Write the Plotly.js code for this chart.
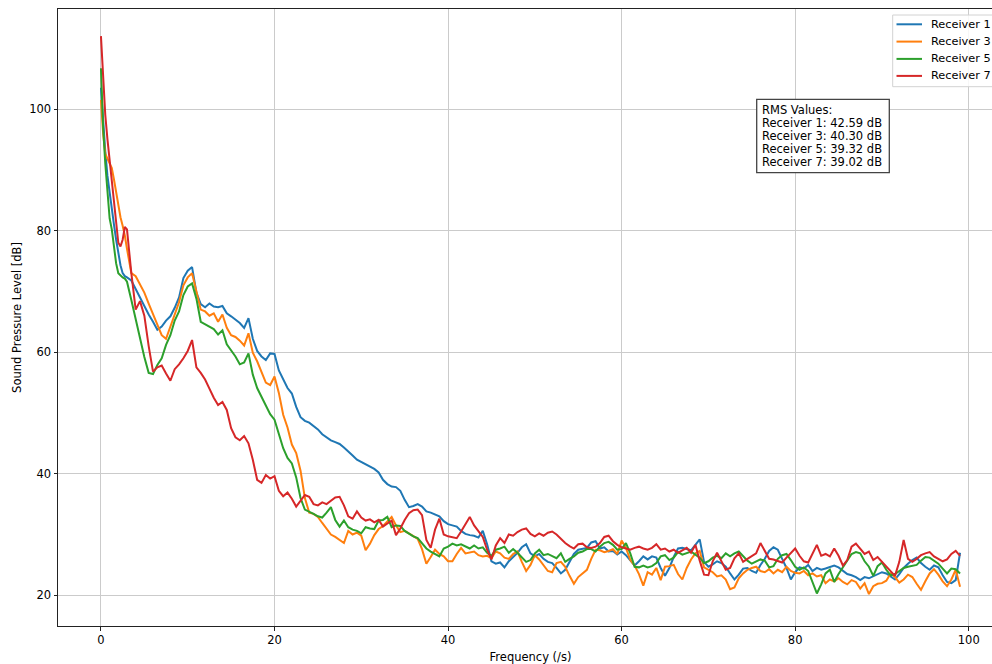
<!DOCTYPE html>
<html>
<head>
<meta charset="utf-8">
<script src="https://cdn.plot.ly/plotly-3.0.1.min.js"></script>
<style>
  html, body { margin: 0; padding: 0; overflow: hidden; background: #ffffff; }
  #chart { width: 1010px; height: 664px; }
</style>
</head>
<body>
<div id="chart"></div>
<script>
// Frequency axis (/s): finer steps near 0 where the spectra fall steeply
const freq = [
  0, 0.25, 0.5, 0.75, 1, 1.25, 1.5, 1.75, 2, 2.25, 2.5, 2.75, 3,
  3.5, 4, 4.5, 5, 5.5, 6, 6.5, 7, 7.5, 8,
  8.5, 9, 9.5, 10, 10.5, 11, 11.5, 12, 12.5, 13,
  13.5, 14, 14.5, 15, 15.5, 16, 16.5, 17, 17.5, 18,
  18.5, 19, 19.5, 20, 20.5, 21, 21.5, 22, 22.5, 23,
  23.5, 24, 24.5, 25, 25.5, 26, 26.5, 27, 27.5, 28,
  28.5, 29, 29.5, 30, 30.5, 31, 31.5, 32, 32.5, 33,
  33.5, 34, 34.5, 35, 35.5, 36, 36.5, 37, 37.5, 38,
  38.5, 39, 39.5, 40, 40.5, 41, 41.5, 42, 42.5, 43,
  43.5, 44, 44.5, 45, 45.5, 46, 46.5, 47, 47.5, 48,
  48.5, 49, 49.5, 50, 50.5, 51, 51.5, 52, 52.5, 53,
  53.5, 54, 54.5, 55, 55.5, 56, 56.5, 57, 57.5, 58,
  58.5, 59, 59.5, 60, 60.5, 61, 61.5, 62, 62.5, 63,
  63.5, 64, 64.5, 65, 65.5, 66, 66.5, 67, 67.5, 68,
  68.5, 69, 69.5, 70, 70.5, 71, 71.5, 72, 72.5, 73,
  73.5, 74, 74.5, 75, 75.5, 76, 76.5, 77, 77.5, 78,
  78.5, 79, 79.5, 80, 80.5, 81, 81.5, 82, 82.5, 83,
  83.5, 84, 84.5, 85, 85.5, 86, 86.5, 87, 87.5, 88,
  88.5, 89, 89.5, 90, 90.5, 91, 91.5, 92, 92.5, 93,
  93.5, 94, 94.5, 95, 95.5, 96, 96.5, 97, 97.5, 98,
  98.5, 99
];

// Sound pressure level [dB] per receiver
const receiver1 = [
  103.5, 97.5, 93.0, 89.0, 86.0, 83.5, 81.0, 78.5, 76.3, 74.3, 73.0, 72.5, 72.3,
  71.8, 70.4, 69.0, 67.5, 66.2, 65.0, 63.7, 64.2, 65.2, 65.9,
  67.3, 69.0, 72.2, 73.4, 74.0, 69.8, 67.9, 67.4, 68.0, 67.5,
  67.4, 67.6, 66.4, 65.9, 65.3, 64.8, 64.0, 65.6, 62.2, 60.2,
  59.3, 58.7, 59.8, 59.7, 57.0, 55.4, 54.1, 53.2, 51.0, 49.3,
  48.7, 48.4, 47.9, 47.3, 46.5, 46.0, 45.5, 45.2, 44.9, 44.3,
  43.7, 43.0, 42.3, 41.9, 41.5, 41.2, 40.8, 40.2, 39.0, 38.3,
  37.9, 37.8, 37.2, 35.7, 34.5, 34.7, 35.0, 34.6, 33.8, 33.6,
  33.3, 33.0, 32.2, 31.7, 31.5, 31.3, 30.6, 30.1, 29.9, 29.8,
  29.5, 30.6, 28.4, 25.6, 25.2, 25.4, 24.6, 25.6, 26.3, 27.0,
  27.9, 28.4, 26.9, 26.4, 26.8, 26.0, 25.5, 25.3, 24.5, 23.6,
  24.2, 25.6, 26.8, 27.5, 27.6, 27.8, 28.7, 28.9, 27.7, 27.9,
  27.2, 27.3, 26.7, 27.2, 26.6, 25.8, 24.9, 25.6, 26.4, 25.9,
  26.4, 26.2, 24.5, 23.2, 24.5, 26.3, 27.7, 27.8, 27.6, 27.4,
  28.3, 29.2, 25.5, 24.7, 25.1, 25.6, 25.3, 24.7, 23.6, 22.6,
  23.4, 24.4, 24.5, 24.0, 23.7, 25.0, 26.0, 27.3, 27.9, 27.5,
  26.0, 24.5, 22.6, 23.8, 24.6, 24.4, 25.0, 24.0, 24.5, 24.2,
  24.4, 24.7, 24.9, 24.6, 24.0, 23.5, 23.3, 23.0, 22.5, 23.0,
  22.8, 23.1, 23.4, 23.8, 23.6, 23.1, 22.6, 23.5, 24.5, 25.2,
  25.8, 26.2, 25.3, 24.7, 24.2, 24.9, 24.6, 23.3, 22.2, 22.0,
  22.5, 27.0
];

const receiver3 = [
  101.5, 96.0, 92.6, 91.8, 91.0, 90.3, 88.4, 86.3, 84.3, 82.2, 80.8, 79.2, 77.0,
  73.0, 72.5, 71.2, 69.8, 68.0, 66.2, 64.3, 62.8, 62.2, 64.3,
  66.3, 68.2, 71.0, 72.3, 73.0, 69.8, 67.0, 66.7, 66.0, 66.4,
  65.0, 66.2, 64.0, 62.8, 62.5, 61.9, 61.1, 63.1, 59.9, 58.5,
  56.8, 55.0, 54.6, 56.0, 53.3, 49.7, 47.6, 44.8, 43.4, 40.5,
  36.0, 33.6, 33.4, 32.9, 31.9, 31.0, 30.0, 29.6, 29.1, 28.6,
  30.6, 30.0, 30.3, 29.8, 27.4, 28.5, 29.9, 30.9, 31.4, 32.2,
  32.9, 31.5, 30.4, 30.6, 30.2, 29.7, 29.3, 27.6, 25.2, 26.3,
  27.5, 26.8, 26.4, 25.6, 25.6, 26.8, 27.8, 26.9, 27.1, 27.2,
  26.6, 26.4, 26.5, 26.1, 27.2, 26.9, 26.2, 26.0, 26.8, 27.2,
  25.5, 24.0, 25.0, 26.6, 25.9, 25.0, 24.0, 23.8, 25.3, 25.5,
  24.7, 23.2, 21.9, 23.0, 23.6, 24.2, 26.0, 27.5, 27.4, 27.1,
  27.3, 27.6, 26.8, 29.0, 27.8, 25.8, 24.9, 23.5, 21.6, 23.8,
  23.4, 24.5, 22.5, 24.7, 24.8, 25.0, 23.5, 22.6, 24.5, 25.9,
  26.9, 27.3, 24.6, 24.2, 23.8, 23.1, 23.3, 22.6, 21.0, 21.3,
  22.8, 23.6, 24.2, 24.5, 24.7, 24.0, 23.8, 24.3, 23.6, 24.2,
  23.8, 24.7, 24.0, 23.7, 23.6, 24.0, 23.3, 23.6, 23.1, 23.3,
  22.0, 22.6, 22.3, 22.8, 22.2, 21.8, 22.5, 22.2, 21.1, 22.0,
  20.2, 21.5, 21.9, 22.0, 22.4, 23.6, 23.0, 22.1, 22.6, 23.4,
  23.0, 21.9, 20.9, 22.3, 23.6, 24.3, 23.4, 22.3, 21.5, 22.6,
  24.2, 21.4
];

const receiver5 = [
  106.7, 97.0, 91.0, 86.4, 82.0, 80.2, 77.6, 74.6, 73.0, 72.6, 72.3, 72.1, 71.6,
  68.6, 65.3, 62.5, 59.2, 56.6, 56.4, 57.9, 59.0, 61.2, 62.8,
  65.2, 66.7, 69.4, 70.8, 71.3, 68.8, 65.0, 64.6, 64.2, 63.8,
  62.9, 63.6, 61.3, 60.3, 59.3, 58.0, 58.3, 59.8, 56.3, 54.1,
  52.7, 51.4, 49.8, 48.9, 46.6, 44.2, 42.6, 41.7, 39.4, 36.0,
  34.1, 33.8, 33.4, 33.0, 32.8, 33.6, 34.5, 32.4, 31.3, 32.3,
  31.2, 30.8, 30.6, 30.2, 31.2, 31.0, 30.9, 32.3, 32.4, 32.9,
  31.2, 31.5, 31.4, 30.6, 30.1, 29.7, 29.4, 28.6, 27.7, 27.2,
  26.8, 26.4, 27.7, 28.0, 28.5, 28.2, 28.4, 28.1, 27.7, 28.2,
  27.7, 27.9, 27.0, 26.5, 27.5, 27.7, 28.0, 27.0, 27.6, 27.0,
  26.2, 25.5, 25.8, 26.9, 27.5, 26.6, 26.8, 26.5, 26.1, 26.9,
  25.5, 26.0, 26.4, 27.0, 27.2, 27.6, 27.6, 27.2, 28.0, 28.6,
  28.8, 28.3, 27.5, 27.6, 28.6, 26.9, 24.7, 24.6, 24.9, 24.6,
  24.8, 25.3, 26.4, 26.6, 25.8, 26.2, 27.1, 26.7, 27.0, 27.2,
  26.7, 26.2, 25.3, 25.6, 26.2, 26.5, 26.1, 26.9, 26.4, 26.9,
  27.2, 26.5, 25.7, 25.2, 25.5, 25.9, 25.7, 24.6, 24.8, 26.0,
  26.6, 26.8, 25.8, 24.7, 24.2, 24.6, 24.0, 22.0, 20.3, 21.8,
  23.6, 24.2, 22.2, 23.5, 24.6, 25.8, 26.8, 27.1, 26.9, 25.6,
  24.7, 23.2, 24.8, 25.4, 24.2, 23.3, 23.5, 24.0, 24.5, 24.7,
  24.8, 25.0, 25.7, 26.3, 26.2, 25.7, 25.2, 24.4, 23.6, 24.4,
  24.3, 23.6
];

const receiver7 = [
  112.0, 104.5, 99.0, 95.0, 91.5, 88.0, 84.5, 80.5, 78.0, 77.4, 78.5, 80.6, 80.2,
  73.0, 67.0, 68.4, 66.0, 61.0, 56.8, 57.5, 57.8, 56.5, 55.3,
  57.2, 58.0, 59.0, 60.2, 62.0, 57.5, 56.6, 55.5, 54.0, 52.5,
  51.3, 51.8, 50.5, 47.5, 46.0, 45.5, 46.2, 45.0, 42.3, 39.0,
  38.5, 39.8, 39.2, 39.6, 37.2, 36.3, 36.9, 35.9, 34.6, 35.6,
  36.5, 36.2, 35.0, 34.8, 35.3, 35.0, 35.5, 36.1, 36.2, 34.8,
  33.0, 32.6, 33.8, 32.8, 32.3, 32.5, 32.0, 32.4, 31.3, 31.8,
  32.3, 29.9, 31.0, 32.4, 33.5, 34.0, 34.1, 33.2, 29.1, 27.8,
  30.8, 32.6, 30.0, 29.7, 29.6, 29.4, 30.5, 31.8, 32.9, 31.5,
  30.6, 29.6, 27.5, 25.9, 28.2, 29.4, 28.6, 30.0, 29.8, 30.4,
  30.8, 31.0, 30.1, 29.7, 30.2, 29.8, 30.3, 30.5, 30.0, 29.3,
  28.6, 28.1, 27.7, 28.4, 28.5, 27.9, 27.8, 28.0, 28.6, 29.6,
  29.8, 28.9, 28.3, 27.9, 27.7, 27.5, 27.8, 28.0, 27.7, 27.5,
  27.8, 28.4, 27.5, 27.7, 27.2, 27.5, 27.0, 27.4, 27.8, 27.0,
  28.3, 25.7, 23.4, 23.3, 25.6, 27.0, 25.6, 24.2, 24.5, 26.1,
  26.9, 25.5, 26.0, 26.4, 26.9, 28.6, 27.4, 26.0, 25.9, 25.6,
  25.4, 26.2, 27.0, 27.7, 26.5, 25.6, 25.4, 27.0, 28.3, 26.5,
  26.8, 26.4, 27.7, 26.5, 24.9, 25.8, 28.0, 28.5, 27.6, 26.8,
  27.2, 25.8, 26.3, 25.5, 24.8, 23.9, 23.2, 25.5, 29.1, 26.0,
  25.5, 26.0, 26.6, 26.9, 27.1, 26.4, 26.0, 25.6, 25.9, 26.8,
  27.3, 26.5
];

const seriesNames = ['Receiver 1', 'Receiver 3', 'Receiver 5', 'Receiver 7'];
const seriesValues = [receiver1, receiver3, receiver5, receiver7];
const seriesColors = ['#1f77b4', '#ff7f0e', '#2ca02c', '#d62728'];

// RMS summary shown in the text box
const rmsLabels = ['Receiver 1', 'Receiver 3', 'Receiver 5', 'Receiver 7'];
const rmsValues = [42.59, 40.30, 39.32, 39.02];

const xTicks = [0, 20, 40, 60, 80, 100];
const yTicks = [20, 40, 60, 80, 100];

const FONT = 'DejaVu Sans';

const traces = seriesNames.map((name, i) => ({
  type: 'scatter',
  mode: 'lines',
  name: name,
  x: freq,
  y: seriesValues[i],
  line: { color: seriesColors[i], width: 2 },
  showlegend: false
}));

// Plot area geometry in pixels, used to place the legend and text box in paper units
const plotLeft = 58, plotWidth = 945, plotTop = 9, plotHeight = 617;
const px = v => (v - plotLeft) / plotWidth;
const py = v => (plotTop + plotHeight - v) / plotHeight;

// Legend (upper right): frame, colour samples and labels
const legendRows = [24.3, 41.6, 58.9, 75.9];
const shapes = [{
  type: 'rect', xref: 'paper', yref: 'paper',
  x0: px(892.7), x1: px(1000), y0: py(86.7), y1: py(15),
  line: { color: '#d2d2d2', width: 1 }, fillcolor: 'rgba(255,255,255,0.85)', layer: 'above'
}];
seriesNames.forEach((name, i) => {
  shapes.push({
    type: 'line', xref: 'paper', yref: 'paper',
    x0: px(896.5), x1: px(922), y0: py(legendRows[i]), y1: py(legendRows[i]),
    line: { color: seriesColors[i], width: 2 }, layer: 'above'
  });
});

// RMS text box
shapes.push({
  type: 'rect', xref: 'paper', yref: 'paper',
  x0: px(756.7), x1: px(889.3), y0: py(172.7), y1: py(99.3),
  line: { color: '#444', width: 1.3 }, fillcolor: '#ffffff', layer: 'above'
});

const annotations = seriesNames.map((name, i) => ({
  xref: 'paper', yref: 'paper',
  x: px(929.5), y: py(legendRows[i]),
  xanchor: 'left', yanchor: 'middle',
  text: name, showarrow: false, borderpad: 0,
  font: { family: FONT, size: 11.3, color: '#000' }
}));

const boxLines = ['RMS Values:'].concat(
  rmsLabels.map((lab, i) => lab + ': ' + rmsValues[i].toFixed(2) + ' dB')
);
const lineCenters = [110.5, 123.4, 136.3, 149.2, 162.1];
boxLines.forEach((t, i) => {
  annotations.push({
    xref: 'paper', yref: 'paper',
    x: px(761), y: py(lineCenters[i]),
    xanchor: 'left', yanchor: 'middle',
    text: t, showarrow: false, borderpad: 0,
    font: { family: FONT, size: 11.5, color: '#000' }
  });
});

const axisCommon = {
  ticks: 'outside', ticklen: 3.5, tickwidth: 1, tickcolor: '#222',
  showline: true, mirror: true, linecolor: '#222', linewidth: 1,
  showgrid: true, gridcolor: '#cbcbcb', gridwidth: 1,
  zeroline: false, automargin: false,
  tickfont: { family: FONT, size: 11.5, color: '#000' }
};

const layout = {
  width: 1010, height: 664,
  margin: { l: plotLeft, r: 1010 - plotLeft - plotWidth, t: plotTop, b: 664 - plotTop - plotHeight, autoexpand: false },
  paper_bgcolor: '#ffffff', plot_bgcolor: '#ffffff',
  font: { family: FONT, size: 11.5, color: '#000' },
  xaxis: Object.assign({}, axisCommon, {
    range: [-4.95, 103.95], tickvals: xTicks,
    title: { text: 'Frequency (/s)', standoff: 6, font: { family: FONT, size: 11.5, color: '#000' } }
  }),
  yaxis: Object.assign({}, axisCommon, {
    range: [14.95, 116.46], tickvals: yTicks,
    title: { text: 'Sound Pressure Level [dB]', standoff: 5, font: { family: FONT, size: 11.5, color: '#000' } }
  }),
  showlegend: false,
  shapes: shapes,
  annotations: annotations
};

Plotly.newPlot('chart', traces, layout, { staticPlot: true, displayModeBar: false });
</script>
</body>
</html>
